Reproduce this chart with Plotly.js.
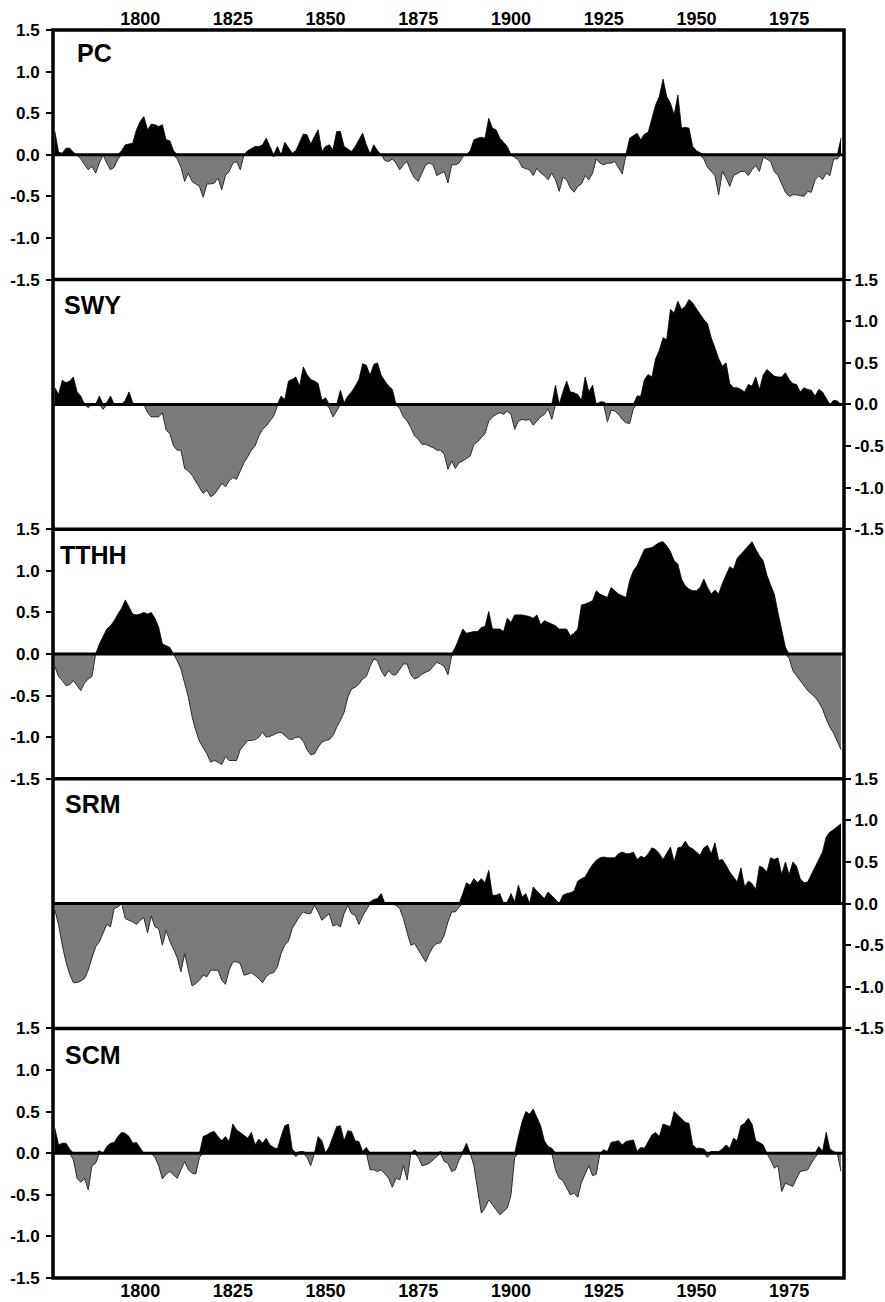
<!DOCTYPE html>
<html>
<head>
<meta charset="utf-8">
<script src="https://cdn.plot.ly/plotly-3.0.1.min.js"></script>
<style>
  html, body { margin: 0; padding: 0; background: #fff; }
  #chart { width: 885px; height: 1302px; }
</style>
</head>
<body>
<div id="chart"></div>
<script>
// ---------------- DATA ----------------
const FIRST_YEAR = 1777;
const PANEL_NAMES = ['PC', 'SWY', 'TTHH', 'SRM', 'SCM'];
const X_TICK_VALUES = [1800, 1825, 1850, 1875, 1900, 1925, 1950, 1975];
const Y_TICK_VALUES = [-1.5, -1.0, -0.5, 0.0, 0.5, 1.0, 1.5];
const Y_TICK_TEXT = ['-1.5', '-1.0', '-0.5', '0.0', '0.5', '1.0', '1.5'];

// annual values 1777..1989
const PC = [
  0.28, 0.03, 0.02,
  0.08, 0.08, 0.03, 0.0, -0.05, -0.12, -0.18, -0.14, -0.22, -0.1,
  0.0, -0.1, -0.18, -0.15, -0.05, 0.05, 0.12, 0.13, 0.14, 0.3,
  0.4, 0.46, 0.3, 0.37, 0.36, 0.34, 0.36, 0.18, 0.17, 0.05,
  -0.05, -0.15, -0.32, -0.22, -0.32, -0.35, -0.38, -0.51, -0.35, -0.35,
  -0.34, -0.28, -0.42, -0.25, -0.2, -0.1, -0.08, -0.18, 0.0, 0.05,
  0.08, 0.1, 0.1, 0.12, 0.2, 0.1, -0.02, 0.1, -0.01, 0.15,
  0.08, 0.02, 0.05, 0.15, 0.25, 0.24, 0.13, 0.22, 0.3, 0.04,
  0.1, 0.12, 0.06, 0.28, 0.28, 0.1, 0.07, 0.04, 0.1, 0.18,
  0.26, 0.12, 0.01, 0.12, 0.05, 0.0, -0.07, -0.08, -0.05, -0.1,
  -0.18, -0.12, -0.08, -0.2, -0.28, -0.32, -0.22, -0.12, -0.1, -0.12,
  -0.25, -0.22, -0.2, -0.34, -0.12, -0.12, -0.1, -0.02, 0.0, 0.05,
  0.18, 0.2, 0.21, 0.2, 0.44, 0.32, 0.3, 0.2, 0.15, 0.1,
  0.0, -0.03, -0.06, -0.15, -0.17, -0.18, -0.25, -0.16, -0.22, -0.25,
  -0.3, -0.22, -0.3, -0.44, -0.27, -0.3, -0.4, -0.45, -0.38, -0.35,
  -0.25, -0.3, -0.22, -0.05, -0.1, -0.12, -0.1, -0.1, -0.08, -0.15,
  -0.23, 0.0, 0.2, 0.23, 0.26, 0.18, 0.25, 0.27, 0.45, 0.6,
  0.7, 0.91, 0.7, 0.62, 0.48, 0.72, 0.32, 0.33, 0.32, 0.1,
  0.05, 0.02, -0.05, -0.15, -0.2, -0.25, -0.48, -0.2, -0.28, -0.38,
  -0.25, -0.22, -0.2, -0.2, -0.25, -0.18, -0.13, -0.2, -0.03, -0.05,
  -0.08, -0.2, -0.25, -0.35, -0.45, -0.5, -0.48, -0.48, -0.49, -0.5,
  -0.44, -0.45, -0.3, -0.25, -0.3, -0.22, -0.25, -0.05, -0.05, 0.2
];

const SWY = [
  0.2, 0.12, 0.29,
  0.26, 0.28, 0.33, 0.15, 0.1, 0.0, -0.04, 0.0, 0.0, 0.1,
  -0.06, 0.02, 0.1, 0.0, 0.0, 0.0, 0.05, 0.15, 0.02, 0.0,
  0.0, 0.01, -0.1, -0.15, -0.15, -0.15, -0.1, -0.31, -0.35, -0.5,
  -0.55, -0.55, -0.77, -0.8, -0.85, -0.93, -1.0, -1.07, -1.03, -1.11,
  -1.08, -1.02, -0.95, -0.99, -0.92, -0.88, -0.9, -0.8, -0.7, -0.63,
  -0.55, -0.5, -0.38, -0.3, -0.26, -0.2, -0.14, -0.02, 0.1, 0.06,
  0.28, 0.3, 0.33, 0.22, 0.45, 0.36, 0.3, 0.28, 0.25, 0.05,
  0.08, -0.04, -0.15, -0.08, 0.17, 0.02, 0.1, 0.15, 0.22, 0.3,
  0.49, 0.47, 0.35, 0.48, 0.5, 0.35, 0.28, 0.22, 0.18, 0.0,
  -0.05, -0.15, -0.2, -0.28, -0.38, -0.42, -0.48, -0.48, -0.5, -0.52,
  -0.55, -0.55, -0.6, -0.78, -0.68, -0.77, -0.7, -0.68, -0.65, -0.62,
  -0.48, -0.45, -0.4, -0.35, -0.2, -0.15, -0.12, -0.1, -0.12, -0.08,
  -0.12, -0.3, -0.2, -0.18, -0.19, -0.18, -0.25, -0.2, -0.15, -0.12,
  -0.05, -0.18, 0.23, 0.0, 0.15, 0.28, 0.15, 0.14, 0.12, 0.05,
  0.33, 0.15, 0.23, 0.0, 0.03, 0.03, -0.21, -0.07, -0.08, -0.12,
  -0.18, -0.22, -0.23, -0.05, 0.1, 0.1, 0.3, 0.36, 0.33, 0.55,
  0.65, 0.8, 0.78, 1.14, 1.1, 1.24, 1.14, 1.18, 1.26, 1.22,
  1.15, 1.08, 1.02, 0.97, 0.8, 0.68, 0.55, 0.46, 0.5, 0.25,
  0.2, 0.2, 0.18, 0.15, 0.24, 0.22, 0.33, 0.18, 0.35, 0.42,
  0.38, 0.34, 0.33, 0.33, 0.38, 0.3, 0.25, 0.24, 0.15, 0.2,
  0.18, 0.17, 0.1, 0.18, 0.15, 0.07, 0.0, 0.05, 0.04, -0.01
];

const TTHH = [
  -0.15, -0.27, -0.32,
  -0.38, -0.37, -0.32, -0.38, -0.44, -0.35, -0.3, -0.27, 0.0, 0.12,
  0.22, 0.3, 0.34, 0.4, 0.48, 0.55, 0.65, 0.57, 0.48, 0.47,
  0.48, 0.5, 0.48, 0.5, 0.43, 0.32, 0.12, 0.1, 0.08, 0.0,
  -0.08, -0.18, -0.35, -0.52, -0.75, -0.92, -1.05, -1.12, -1.2, -1.3,
  -1.28, -1.3, -1.33, -1.23, -1.28, -1.28, -1.28, -1.15, -1.1, -1.04,
  -1.04, -1.03, -1.0, -0.94, -1.0, -0.99, -0.97, -0.95, -0.94, -0.98,
  -1.02, -1.03, -1.0, -1.0, -1.05, -1.15, -1.21, -1.2, -1.12, -1.06,
  -1.04, -1.03, -0.98, -0.88, -0.8, -0.7, -0.52, -0.42, -0.4, -0.36,
  -0.3, -0.27, -0.15, -0.06, -0.08, -0.2, -0.27, -0.2, -0.25, -0.25,
  -0.18, -0.12, -0.12, -0.25, -0.3, -0.28, -0.24, -0.22, -0.2, -0.15,
  -0.1, -0.12, -0.15, -0.25, -0.02, 0.08, 0.18, 0.3, 0.25, 0.26,
  0.27, 0.27, 0.32, 0.33, 0.51, 0.3, 0.3, 0.3, 0.27, 0.43,
  0.38, 0.47, 0.47, 0.47, 0.46, 0.45, 0.43, 0.47, 0.35, 0.4,
  0.38, 0.36, 0.34, 0.3, 0.3, 0.3, 0.22, 0.25, 0.3, 0.59,
  0.6, 0.62, 0.64, 0.76, 0.72, 0.7, 0.68, 0.8, 0.76, 0.72,
  0.7, 0.68, 0.88, 1.0, 1.06, 1.15, 1.26, 1.27, 1.28, 1.31,
  1.34, 1.35, 1.3, 1.23, 1.12, 1.08, 0.9, 0.82, 0.78, 0.76,
  0.76, 0.8, 0.9, 0.8, 0.72, 0.77, 0.72, 0.85, 0.95, 1.05,
  1.02, 1.15, 1.2, 1.25, 1.3, 1.35, 1.26, 1.18, 1.12, 0.95,
  0.83, 0.72, 0.5, 0.28, 0.08, -0.05, -0.2, -0.26, -0.32, -0.38,
  -0.44, -0.48, -0.52, -0.58, -0.66, -0.78, -0.88, -0.95, -1.05, -1.15
];

const SRM = [
  -0.08, -0.25, -0.5,
  -0.7, -0.85, -0.95, -0.95, -0.93, -0.9, -0.8, -0.65, -0.52, -0.46,
  -0.35, -0.25, -0.28, -0.06, -0.04, 0.0, -0.18, -0.2, -0.22, -0.25,
  -0.2, -0.17, -0.35, -0.15, -0.28, -0.3, -0.5, -0.32, -0.45, -0.55,
  -0.65, -0.82, -0.6, -0.8, -0.99, -0.96, -0.92, -0.86, -0.88, -0.8,
  -0.8, -0.8, -0.92, -0.97, -0.8, -0.7, -0.7, -0.72, -0.86, -0.85,
  -0.83, -0.86, -0.9, -0.95, -0.88, -0.84, -0.83, -0.76, -0.6, -0.5,
  -0.45, -0.3, -0.22, -0.15, -0.1, -0.12, -0.12, -0.02, -0.1, -0.2,
  -0.16, -0.12, -0.27, -0.25, -0.28, -0.12, -0.02, -0.12, -0.14, -0.25,
  -0.15, -0.08, 0.02, 0.05, 0.06, 0.12, 0.0, 0.0, -0.01, -0.02,
  -0.06, -0.18, -0.35, -0.5, -0.48, -0.55, -0.62, -0.7, -0.6, -0.52,
  -0.48, -0.47, -0.38, -0.22, -0.1, -0.1, -0.04, 0.12, 0.25, 0.22,
  0.3, 0.25, 0.3, 0.25, 0.4, 0.1, 0.1, 0.12, 0.0, 0.02,
  0.12, 0.02, 0.22, 0.08, 0.12, 0.0, 0.2, 0.15, 0.1, 0.06,
  0.14, 0.1, 0.05, 0.0, 0.1, 0.12, 0.13, 0.15, 0.27, 0.3,
  0.32, 0.4, 0.47, 0.52, 0.55, 0.56, 0.55, 0.55, 0.55, 0.6,
  0.62, 0.6, 0.6, 0.62, 0.53, 0.57, 0.55, 0.6, 0.67, 0.65,
  0.6, 0.53, 0.6, 0.68, 0.5, 0.67, 0.68, 0.75, 0.68, 0.66,
  0.62, 0.58, 0.67, 0.7, 0.6, 0.73, 0.52, 0.53, 0.46, 0.38,
  0.32, 0.26, 0.43, 0.2, 0.27, 0.24, 0.17, 0.45, 0.43, 0.38,
  0.55, 0.53, 0.55, 0.35, 0.5, 0.35, 0.5, 0.45, 0.3, 0.25,
  0.26, 0.35, 0.42, 0.52, 0.62, 0.8, 0.86, 0.89, 0.92, 0.96
];

const SCM = [
  0.3, 0.1, 0.12,
  0.12, 0.05, -0.08, -0.3, -0.35, -0.3, -0.44, -0.15, -0.12, 0.03,
  0.0, 0.08, 0.12, 0.13, 0.2, 0.25, 0.24, 0.2, 0.12, 0.13,
  0.07, 0.0, 0.0, 0.0, -0.05, -0.15, -0.31, -0.25, -0.22, -0.26,
  -0.3, -0.2, -0.1, -0.2, -0.24, -0.25, -0.05, 0.2, 0.22, 0.25,
  0.26, 0.2, 0.15, 0.2, 0.14, 0.35, 0.28, 0.25, 0.22, 0.18,
  0.25, 0.1, 0.17, 0.12, 0.18, 0.1, 0.07, 0.05, 0.2, 0.33,
  0.35, 0.05, -0.04, 0.02, 0.02, -0.05, -0.15, 0.0, 0.2, 0.15,
  0.0, 0.08, 0.2, 0.32, 0.33, 0.15, 0.27, 0.26, 0.15, 0.14,
  0.02, 0.07, -0.2, -0.2, -0.22, -0.2, -0.25, -0.3, -0.41, -0.3,
  -0.32, -0.15, -0.32, 0.0, 0.04, -0.05, -0.15, -0.14, -0.12, -0.08,
  -0.04, 0.02, -0.1, -0.12, -0.22, -0.2, -0.08, 0.02, 0.12, 0.0,
  -0.15, -0.45, -0.72, -0.66, -0.56, -0.62, -0.68, -0.74, -0.7, -0.66,
  -0.5, -0.05, 0.2, 0.38, 0.5, 0.47, 0.53, 0.42, 0.33, 0.15,
  0.08, 0.06, -0.2, -0.3, -0.33, -0.42, -0.5, -0.48, -0.53, -0.35,
  -0.25, -0.15, -0.27, -0.25, 0.0, 0.04, 0.02, 0.13, 0.14, 0.15,
  0.1, 0.14, 0.15, 0.16, 0.02, 0.07, 0.06, 0.15, 0.22, 0.25,
  0.2, 0.35, 0.33, 0.32, 0.5, 0.46, 0.42, 0.37, 0.36, 0.1,
  0.06, 0.06, 0.05, -0.05, 0.02, 0.02, 0.02, 0.05, 0.1, 0.06,
  0.18, 0.15, 0.33, 0.36, 0.42, 0.35, 0.15, 0.13, 0.1, 0.0,
  -0.08, -0.18, -0.15, -0.46, -0.36, -0.38, -0.4, -0.3, -0.22, -0.21,
  -0.2, -0.12, -0.05, 0.08, 0.02, 0.25, 0.05, 0.02, 0.0, -0.22
];

const SERIES = [PC, SWY, TTHH, SRM, SCM];

// ---------------- STYLE / LAYOUT ----------------
const W = 885, H = 1302;
const M = { l: 53, r: 41, t: 30, b: 24 };
const X_RANGE = [1776.5, 1989.8];
const FONT_FAMILY = 'Arial, "Liberation Sans", Helvetica, sans-serif';
const POS_COLOR = '#000000';
const NEG_COLOR = '#7b7b7b';
const FRAME_W = 3.5;

// panel label positions (pixels: left of text box, top of text box)
const LABEL_POS = [[75, 37], [62, 289], [58, 539], [63, 788], [63, 1039]];

const plotW = W - M.l - M.r, plotH = H - M.t - M.b;
const px2x = p => (p - M.l) / plotW;
const px2y = p => 1 - (p - M.t) / plotH;

const n = PANEL_NAMES.length;
const years = PC.map((_, i) => FIRST_YEAR + i);

const traces = [];
const layout = {
  width: W, height: H,
  margin: M,
  paper_bgcolor: '#ffffff',
  plot_bgcolor: '#ffffff',
  showlegend: false,
  font: { family: FONT_FAMILY, color: '#000', weight: 'bold' },
  shapes: [],
  annotations: []
};

for (let i = 0; i < n; i++) {
  const suffix = i === 0 ? '' : String(i + 1);
  const xa = 'x' + suffix, ya = 'y' + suffix;
  const vals = SERIES[i];
  const pos = vals.map(v => Math.max(v, 0));
  const neg = vals.map(v => Math.min(v, 0));

  traces.push({
    x: years, y: neg, xaxis: xa, yaxis: ya, type: 'scatter', mode: 'lines',
    fill: 'tozeroy', fillcolor: NEG_COLOR,
    line: { color: '#2b2b2b', width: 1 }, hoverinfo: 'skip'
  });
  traces.push({
    x: years, y: pos, xaxis: xa, yaxis: ya, type: 'scatter', mode: 'lines',
    fill: 'tozeroy', fillcolor: POS_COLOR,
    line: { color: POS_COLOR, width: 0.8 }, hoverinfo: 'skip'
  });

  const top = 1 - i / n, bottom = 1 - (i + 1) / n;
  const xKey = 'xaxis' + suffix, yKey = 'yaxis' + suffix;
  const isTop = i === 0, isBottom = i === n - 1;
  layout[xKey] = {
    domain: [0, 1], anchor: ya, range: X_RANGE,
    showgrid: false, zeroline: false, showline: false,
    ticks: '', tickvals: X_TICK_VALUES,
    ticktext: X_TICK_VALUES.map(String),
    showticklabels: isTop || isBottom,
    side: isTop ? 'top' : 'bottom',
    tickfont: { size: 18, family: FONT_FAMILY, weight: 'bold', color: '#000' },
    ticklabelstandoff: 0
  };
  const rightSide = (i % 2 === 1);
  layout[yKey] = {
    domain: [bottom, top], anchor: xa, range: [-1.5, 1.5],
    side: rightSide ? 'right' : 'left',
    showgrid: false, zeroline: false, showline: false,
    ticks: 'outside', ticklen: 6, tickwidth: 2, tickcolor: '#000',
    tickvals: Y_TICK_VALUES, ticktext: Y_TICK_TEXT,
    tickfont: { size: 17, family: FONT_FAMILY, weight: 'bold', color: '#000' },
    ticklabelstandoff: rightSide ? 0 : 3
  };

  // zero line
  layout.shapes.push({
    type: 'line', xref: xa + ' domain', x0: 0, x1: 1, yref: ya, y0: 0, y1: 0,
    line: { color: '#000', width: 3 }, layer: 'above'
  });
  // divider between panels
  if (i > 0) {
    layout.shapes.push({
      type: 'line', xref: 'paper', x0: 0, x1: 1, yref: 'paper', y0: top, y1: top,
      line: { color: '#000', width: FRAME_W }, layer: 'above'
    });
  }
  // panel label
  layout.annotations.push({
    text: PANEL_NAMES[i], xref: 'paper', yref: 'paper',
    x: px2x(LABEL_POS[i][0]), y: px2y(LABEL_POS[i][1]),
    xanchor: 'left', yanchor: 'top', showarrow: false,
    font: { size: 25, family: FONT_FAMILY, weight: 'bold', color: '#000' }
  });
}

// outer frame
layout.shapes.push({
  type: 'rect', xref: 'paper', yref: 'paper', x0: 0, x1: 1, y0: 0, y1: 1,
  line: { color: '#000', width: FRAME_W }, fillcolor: 'rgba(0,0,0,0)', layer: 'above'
});

Plotly.newPlot('chart', traces, layout, { staticPlot: true, displayModeBar: false });
</script>
</body>
</html>
